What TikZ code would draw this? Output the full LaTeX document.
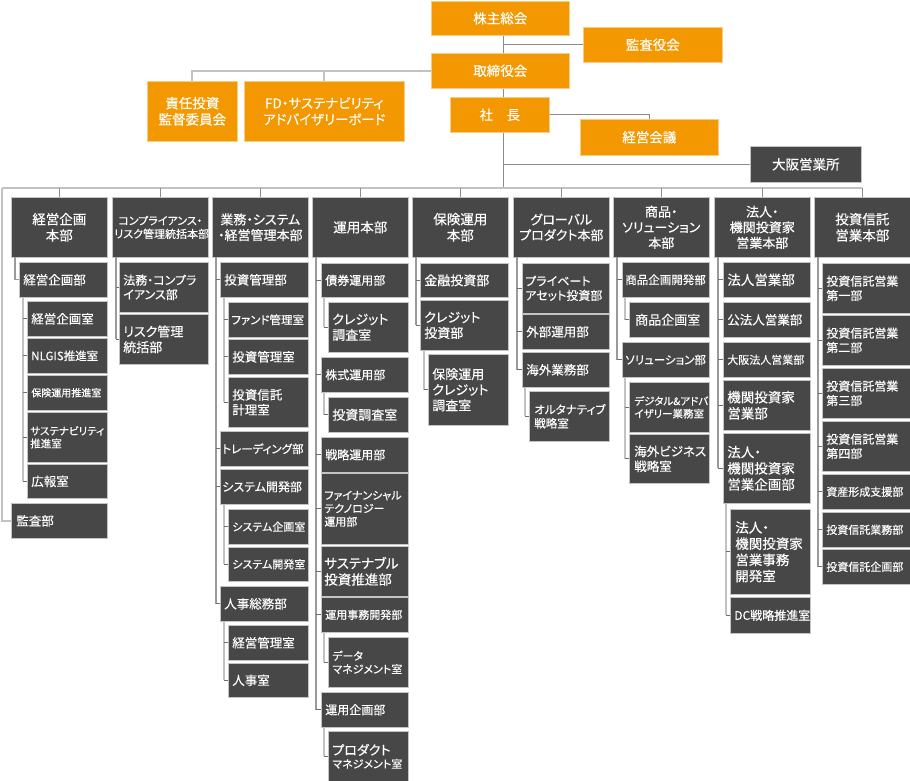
\documentclass[tikz,border=0pt]{standalone}
\usepackage{fontspec}
\setmainfont{Noto Sans CJK JP}[RawFeature=+palt,FakeBold=0.3]
\definecolor{orgF}{HTML}{F39800}
\definecolor{orgB}{HTML}{F9CB85}
\definecolor{drkF}{HTML}{474747}
\definecolor{drkB}{HTML}{C4C4C4}
\definecolor{lnThin}{HTML}{8C8C8C}
\definecolor{lnThick}{HTML}{C2C2C2}
\definecolor{lnTick}{HTML}{6E6E6E}
\definecolor{lnV}{HTML}{9A9A9A}
\newcommand{\obox}[9]{%
  \pgfmathsetmacro{\obtw}{#6-#4-2*#2}%
  \pgfmathsetmacro{\obh}{#7-#5}%
  \pgfmathsetmacro{\oblh}{#8*1.2}%
  \node[#1, inner xsep=#2pt, text width=\obtw pt, minimum height=\obh pt, anchor=north west,
        font=\fontsize{#8pt}{\oblh pt}\selectfont] (#3) at (#4,#5) {#9};%
}
\begin{document}
\begin{tikzpicture}[x=1pt,y=-1pt,
  ob/.style={fill=orgF, draw=orgB, line width=0.6pt, text=white, align=center, inner ysep=0pt},
  hb/.style={fill=drkF, draw=drkB, line width=0.6pt, text=white, align=center, inner ysep=0pt},
  lb/.style={fill=drkF, draw=drkB, line width=0.6pt, text=white, align=left, inner ysep=0pt},
  thinln/.style={draw=lnThin, line width=1pt},
  thickln/.style={draw=lnThick, line width=2pt},
  tickln/.style={draw=lnTick, line width=0.8pt},
  vln/.style={draw=lnV, line width=1.1pt},
  sln/.style={draw=lnThick, line width=2pt}]
\useasboundingbox (0,0) rectangle (910,781);
\fill[white] (0,0) rectangle (910,781);

% top management
\obox{ob}{2}{kabu}{431}{1}{569}{35}{13.5}{株主総会}
\obox{ob}{2}{kansa}{583}{27}{722}{62}{13.5}{監査役会}
\obox{ob}{2}{tori}{431}{53}{569}{88}{13.5}{取締役会}
\obox{ob}{2}{sekinin}{147}{81}{237}{141}{13.5}{責任投資\\監督委員会}
\obox{ob}{2}{fd}{244}{81}{404}{141}{13.5}{FD・サステナビリティ\\アドバイザリーボード}
\obox{ob}{2}{shacho}{450}{97}{549}{132}{13.5}{社　長}
\obox{ob}{2}{keiei}{580}{119}{718}{155}{13.5}{経営会議}
\obox{hb}{2}{osaka}{750}{146}{861}{182}{13.5}{大阪営業所}

% heads
\obox{hb}{2}{H1}{11}{197}{107}{257}{13.5}{経営企画\\本部}
\obox{hb}{2}{H2}{112}{197}{208}{257}{11}{コンプライアンス・\\リスク管理統括本部}
\obox{hb}{2}{H3}{212}{197}{308}{257}{13}{業務・システム\\・経営管理本部}
\obox{hb}{2}{H4}{312}{197}{408}{257}{13.5}{運用本部}
\obox{hb}{2}{H5}{412}{197}{508}{257}{13.5}{保険運用\\本部}
\obox{hb}{2}{H6}{513}{197}{609}{257}{13}{グローバル\\プロダクト本部}
\obox{hb}{2}{H7}{613}{197}{709}{257}{13}{商品・\\ソリューション\\本部}
\obox{hb}{2}{H8}{714}{197}{810}{257}{13}{法人・\\機関投資家\\営業本部}
\obox{hb}{2}{H9}{814}{197}{910}{257}{13.5}{投資信託\\営業本部}

% column 1
\obox{lb}{4}{a1}{19}{262}{107}{297}{12.5}{経営企画部}
\obox{lb}{4}{a11}{27}{301}{107}{336}{12.5}{経営企画室}
\obox{lb}{4}{a12}{27}{338}{107}{373}{11.5}{NLGIS推進室}
\obox{lb}{4}{a13}{27}{375}{107}{410}{10}{保険運用推進室}
\obox{lb}{3}{a14}{27}{412}{107}{462}{10.5}{サステナビリティ\\推進室}
\obox{lb}{4}{a15}{27}{464}{107}{498}{12.5}{広報室}
\obox{lb}{5}{a2}{11}{503}{107}{538}{12.5}{監査部}

% column 2
\obox{lb}{4}{b1}{119}{262}{208}{312}{12}{法務・コンプラ\\イアンス部}
\obox{lb}{4}{b2}{119}{314}{208}{364}{13}{リスク管理\\統括部}

% column 3
\obox{lb}{4}{c1}{220}{262}{308}{297}{12.5}{投資管理部}
\obox{lb}{3}{c11}{228}{302}{308}{337}{11.5}{ファンド管理室}
\obox{lb}{4}{c12}{228}{339}{308}{374}{12.5}{投資管理室}
\obox{lb}{4}{c13}{228}{377}{308}{427}{12.5}{投資信託\\計理室}
\obox{lb}{2}{c2}{220}{431}{308}{466}{11.5}{トレーディング部}
\obox{lb}{2}{c3}{220}{469}{308}{504}{12}{システム開発部}
\obox{lb}{4}{c31}{228}{509}{308}{544}{11}{システム企画室}
\obox{lb}{4}{c32}{228}{547}{308}{581}{11}{システム開発室}
\obox{lb}{4}{c4}{220}{586}{308}{621}{12.5}{人事総務部}
\obox{lb}{4}{c41}{228}{625}{308}{660}{12.5}{経営管理室}
\obox{lb}{4}{c42}{228}{663}{308}{697}{12.5}{人事室}

% column 4
\obox{lb}{4}{d1}{321}{263}{408}{297}{12}{債券運用部}
\obox{lb}{4}{d11}{328}{302}{408}{352}{13}{クレジット\\調査室}
\obox{lb}{4}{d2}{321}{357}{408}{392}{12}{株式運用部}
\obox{lb}{4}{d21}{328}{397}{408}{432}{13}{投資調査室}
\obox{lb}{4}{d3}{321}{437}{408}{472}{12}{戦略運用部}
\obox{lb}{3}{d4}{321}{473}{408}{544}{11}{ファイナンシャル\\テクノロジー\\運用部}
\obox{lb}{3}{d5}{321}{546}{408}{596}{13.5}{サステナブル\\投資推進部}
\obox{lb}{4}{d6}{321}{597}{408}{632}{11}{運用事務開発部}
\obox{lb}{4}{d61}{328}{637}{408}{687}{11}{データ\\マネジメント室}
\obox{lb}{4}{d7}{321}{692}{408}{727}{12}{運用企画部}
\obox{lb}{4}{d71}{328}{731}{408}{781}{11}{{\fontsize{13pt}{15pt}\selectfont プロダクト}\\マネジメント室}

% column 5
\obox{lb}{4}{e1}{420}{263}{508}{297}{13}{金融投資部}
\obox{lb}{4}{e2}{420}{300}{508}{350}{13}{クレジット\\投資部}
\obox{lb}{4}{e21}{428}{354}{508}{425}{13}{保険運用\\クレジット\\調査室}

% column 6
\obox{lb}{3}{f1}{522}{263}{609}{313}{12}{プライベート\\アセット投資部}
\obox{lb}{4}{f2}{522}{314}{609}{349}{12.5}{外部運用部}
\obox{lb}{4}{f3}{522}{352}{609}{387}{12.5}{海外業務部}
\obox{lb}{5}{f31}{529}{391}{609}{441}{11.5}{オルタナティブ\\戦略室}

% column 7
\obox{lb}{3}{g1}{622}{262}{709}{297}{11.5}{商品企画開発部}
\obox{lb}{6}{g11}{629}{302}{709}{337}{13}{商品企画室}
\obox{lb}{3}{g2}{622}{342}{709}{377}{11.5}{ソリューション部}
\obox{lb}{5}{g21}{629}{382}{709}{432}{10.5}{デジタル\&アドバ\\イザリー業務室}
\obox{lb}{5}{g22}{629}{434}{709}{483}{12.5}{海外ビジネス\\戦略室}

% column 8
\obox{lb}{4}{h1}{723}{262}{810}{297}{13.5}{法人営業部}
\obox{lb}{4}{h2}{723}{302}{810}{337}{12.5}{公法人営業部}
\obox{lb}{4}{h3}{723}{342}{810}{377}{11}{大阪法人営業部}
\obox{lb}{4}{h4}{723}{380}{810}{430}{13.5}{機関投資家\\営業部}
\obox{lb}{4}{h5}{723}{433}{810}{503}{13.5}{法人・\\機関投資家\\営業企画部}
\obox{lb}{5}{h51}{730}{509}{810}{594}{13.5}{法人・\\機関投資家\\営業事務\\開発室}
\obox{lb}{4}{h52}{730}{597}{810}{633}{12}{DC戦略推進室}

% column 9
\obox{lb}{4}{i1}{822}{263}{910}{313}{12}{投資信託営業\\第一部}
\obox{lb}{4}{i2}{822}{315}{910}{365}{12}{投資信託営業\\第二部}
\obox{lb}{4}{i3}{822}{368}{910}{418}{12}{投資信託営業\\第三部}
\obox{lb}{4}{i4}{822}{421}{910}{471}{12}{投資信託営業\\第四部}
\obox{lb}{4}{i5}{822}{474}{910}{509}{11}{資産形成支援部}
\obox{lb}{4}{i6}{822}{512}{910}{547}{11}{投資信託業務部}
\obox{lb}{4}{i7}{822}{549}{910}{584}{11}{投資信託企画部}

% ---------- connectors ----------
\coordinate (spine) at (503,0);
\coordinate (busL) at (2,188);
\coordinate (busR) at (862,188);
\draw[thinln] (kabu.south -| spine) -- (tori.north -| spine);
\draw[thinln] (kansa.west -| spine) -- (kansa.west);
\draw[thickln] (tori.west) -| (sekinin.north);
\draw[thickln] (fd.north) -- (fd.north |- tori.west);
\draw[thinln] (tori.south -| spine) -- (shacho.north -| spine);
\draw[thinln] (shacho.east) -| (keiei.north);
\draw[thinln] (shacho.south -| spine) -- (spine |- busL);
\draw[thinln] (osaka.west -| spine) -- (osaka.west);
\draw[thickln] (busL) -- (busR);
\draw[thickln] (busL) |- (a2.west);
\foreach \h in {H1,H2,H3,H4,H5,H6,H7,H8,H9}{\draw[thinln] (\h.north |- busL) -- (\h.north);}

% column verticals
\coordinate (v1) at (15,257);
\coordinate (v2) at (116,257);
\coordinate (v3) at (216,257);
\coordinate (v4) at (316,257);
\coordinate (v5) at (416,257);
\coordinate (v6) at (517,257);
\coordinate (v7) at (617,257);
\coordinate (v8) at (718,257);
\coordinate (v9) at (818,257);
\draw[vln] (v1) |- (a1.west);
\draw[vln] (v2) -- (v2 |- b2.west);
\draw[vln] (v3) -- (v3 |- c4.west);
\draw[vln] (v4) -- (v4 |- d7.west);
\draw[vln] (v5) -- (v5 |- e2.west);
\draw[vln] (v6) -- (v6 |- f3.west);
\draw[vln] (v7) -- (v7 |- g2.west);
\draw[vln] (v8) -- (v8 |- h5.west);
\draw[vln] (v9) -- (v9 |- i7.west);
\foreach \n in {b1,b2}{\draw[tickln] (\n.west -| v2) -- (\n.west);}
\foreach \n in {c1,c2,c3,c4}{\draw[tickln] (\n.west -| v3) -- (\n.west);}
\foreach \n in {d1,d2,d3,d4,d5,d6,d7}{\draw[tickln] (\n.west -| v4) -- (\n.west);}
\foreach \n in {e1,e2}{\draw[tickln] (\n.west -| v5) -- (\n.west);}
\foreach \n in {f1,f2,f3}{\draw[tickln] (\n.west -| v6) -- (\n.west);}
\foreach \n in {g1,g2}{\draw[tickln] (\n.west -| v7) -- (\n.west);}
\foreach \n in {h1,h2,h3,h4,h5}{\draw[tickln] (\n.west -| v8) -- (\n.west);}
\foreach \n in {i1,i2,i3,i4,i5,i6,i7}{\draw[tickln] (\n.west -| v9) -- (\n.west);}

% sub verticals
\coordinate (s1) at (23,297);
\coordinate (s3a) at (224,297);
\coordinate (s3b) at (224,504);
\coordinate (s3c) at (224,621);
\coordinate (s4a) at (324,297);
\coordinate (s4b) at (324,392);
\coordinate (s4c) at (324,632);
\coordinate (s4d) at (324,727);
\coordinate (s5) at (424,350);
\coordinate (s6) at (525,387);
\coordinate (s7a) at (625,297);
\coordinate (s7b) at (625,377);
\coordinate (s8) at (726,503);
\draw[sln] (s1) -- (s1 |- a15.west);
\draw[sln] (s3a) -- (s3a |- c13.west);
\draw[sln] (s3b) -- (s3b |- c32.west);
\draw[sln] (s3c) -- (s3c |- c42.west);
\draw[sln] (s4a) -- (s4a |- d11.west);
\draw[sln] (s4b) -- (s4b |- d21.west);
\draw[sln] (s4c) -- (s4c |- d61.west);
\draw[sln] (s4d) -- (s4d |- d71.west);
\draw[sln] (s5) -- (s5 |- e21.west);
\draw[sln] (s6) -- (s6 |- f31.west);
\draw[sln] (s7a) -- (s7a |- g11.west);
\draw[sln] (s7b) -- (s7b |- g22.west);
\draw[sln] (s8) -- (s8 |- h52.west);
\foreach \n in {a11,a12,a13,a14,a15}{\draw[tickln] (\n.west -| s1) -- (\n.west);}
\foreach \n in {c11,c12,c13,c31,c32,c41,c42}{\draw[tickln] (\n.west -| s3a) -- (\n.west);}
\foreach \n in {d11,d21,d61,d71}{\draw[tickln] (\n.west -| s4a) -- (\n.west);}
\draw[tickln] (e21.west -| s5) -- (e21.west);
\draw[tickln] (f31.west -| s6) -- (f31.west);
\foreach \n in {g11,g21,g22}{\draw[tickln] (\n.west -| s7a) -- (\n.west);}
\foreach \n in {h51,h52}{\draw[tickln] (\n.west -| s8) -- (\n.west);}
\end{tikzpicture}
\end{document}
